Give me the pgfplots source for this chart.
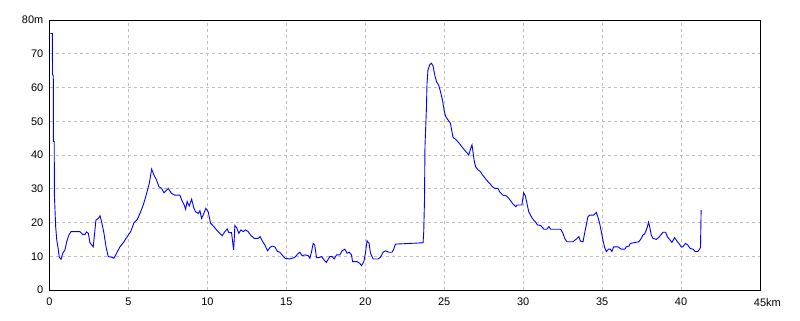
\documentclass[border=0pt]{standalone}
\usepackage{fontspec}
\setmainfont{Liberation Sans}
\usepackage{pgfplots}
\pgfplotsset{compat=1.18}
\definecolor{gridgray}{RGB}{190,190,190}
\begin{document}
\fontsize{11}{13}\selectfont
\begin{tikzpicture}[x=1bp,y=1bp]
\useasboundingbox (0,0) rectangle (800,320);
\begin{axis}[
  at={(49.5bp,30bp)}, anchor=south west,
  scale only axis, width=710.5bp, height=270bp,
  xmin=0, xmax=45, ymin=0, ymax=80,
  xtick={0,5,...,45}, ytick={0,10,...,80},
  xticklabels={0,5,10,15,20,25,30,35,40,45\rlap{km}},
  yticklabels={0,10,20,30,40,50,60,70,80m},
  major tick length=0pt,
  grid=major,
  major grid style={gridgray, line width=0.8bp, dash pattern=on 3bp off 3bp},
  axis line style={black, line width=1bp},
  xticklabel style={anchor=north, inner sep=0pt, yshift=-8bp},
  yticklabel style={anchor=east, inner sep=0pt, xshift=-6bp},
  /pgf/number format/assume math mode=true,
  axis on top=false,
]
\addplot[blue, line width=0.9bp, mark=none] coordinates {
(0.05,76) (0.18,76) (0.19,63.7) (0.24,63.7) (0.25,44) (0.30,44) (0.31,28.1)
(0.39,18.8) (0.46,14.8) (0.56,11.9) (0.62,9.7) (0.73,9.1) (0.84,10.9) (0.98,11.9)
(1.09,14.3) (1.23,16.3) (1.36,17.3) (1.93,17.3) (2.10,16.5) (2.25,16.5) (2.35,17.2)
(2.46,16.8) (2.56,14.0) (2.77,12.8) (2.94,20.7) (3.09,21.2) (3.20,22.0) (3.30,20.2)
(3.45,16.8) (3.58,12.8) (3.72,9.9) (3.94,9.7) (4.08,9.4) (4.25,10.9) (4.46,12.8)
(4.67,14.0) (4.92,15.8) (5.14,17.3) (5.35,19.9) (5.56,20.9) (5.73,22.7) (5.94,25.2)
(6.15,28.6) (6.32,31.6) (6.47,35.8) (6.61,34.1) (6.78,32.6) (6.93,30.6) (7.10,30.1)
(7.25,28.8) (7.42,29.6) (7.52,30.1) (7.73,28.6) (7.94,28.1) (8.26,28.1) (8.37,26.7)
(8.53,25.2) (8.62,23.9) (8.72,26.2) (8.85,24.9) (9.00,26.9) (9.15,24.2) (9.25,23.2)
(9.42,22.7) (9.53,23.5) (9.63,21.2) (9.73,22.2) (9.90,24.2) (10.05,23.2) (10.20,19.8)
(10.37,19.0) (10.58,17.8) (10.79,16.8) (10.94,16.1) (11.11,17.3) (11.25,18.1) (11.36,17.0)
(11.53,17.0) (11.61,13.8) (11.66,11.9) (11.70,15) (11.74,19.1) (11.85,18.5) (11.99,16.8)
(12.12,17.8) (12.27,17.3) (12.42,17.8) (12.58,17.3) (12.73,16.3) (12.96,15.3) (13.22,15.3)
(13.34,15.8) (13.47,14.6) (13.64,13.3) (13.81,11.6) (13.96,12.6) (14.10,13.0) (14.27,12.8)
(14.44,11.4) (14.59,11.2) (14.76,10.2) (14.91,9.4) (15.22,9.2) (15.37,9.4) (15.54,9.7)
(15.71,10.6) (15.85,11.2) (16.00,10.2) (16.17,10.4) (16.38,10.2) (16.49,9.4) (16.60,11.4)
(16.70,13.8) (16.80,13.3) (16.91,9.6) (17.06,9.6) (17.23,9.9) (17.39,8.9) (17.54,8.2)
(17.75,9.9) (17.90,9.9) (18.03,9.2) (18.18,10.4) (18.39,10.4) (18.53,11.6) (18.70,12.1)
(18.85,10.9) (18.98,11.2) (19.13,10.4) (19.19,8.4) (19.48,8.4) (19.65,7.9) (19.76,7.2)
(19.91,8.4) (20.01,10.9) (20.11,14.6) (20.24,13.8) (20.33,10.9) (20.50,9.2) (20.81,9.2)
(20.96,9.7) (21.13,11.2) (21.28,11.6) (21.49,11.2) (21.70,11.2) (21.80,12.1) (21.91,13.6)
(22.82,13.8) (23.66,14.0) (23.70,17.0) (23.75,26.7) (23.78,42.5) (23.87,53.5) (23.91,61.2)
(23.97,65.2) (24.08,66.7) (24.19,67.2) (24.29,66.4) (24.40,63.7) (24.51,61.7) (24.65,60.7)
(24.76,58.8) (24.89,56.3) (24.99,53.3) (25.09,51.4) (25.24,50.4) (25.39,49.4) (25.47,47.4)
(25.56,45.2) (25.73,44.6) (25.87,43.9) (26.03,43.0) (26.19,42.0) (26.34,41.2) (26.47,40.5)
(26.55,40.0) (26.68,42.0) (26.76,43.0) (26.82,41.0) (26.89,38.5) (26.99,36.5) (27.14,35.6)
(27.29,35.1) (27.42,34.1) (27.56,33.3) (27.71,32.4) (27.88,31.6) (28.05,30.6) (28.20,30.1)
(28.41,30.1) (28.51,29.1) (28.72,28.1) (28.94,27.9) (29.08,27.2) (29.21,26.4) (29.35,25.5)
(29.53,24.7) (29.63,25.2) (29.92,25.2) (30.03,28.8) (30.14,27.9) (30.24,25.7) (30.35,23.2)
(30.52,21.7) (30.66,20.7) (30.77,20.2) (30.90,19.3) (31.11,19.1) (31.32,18.0) (31.50,18.0)
(31.63,18.8) (31.74,18.0) (32.37,18.0) (32.52,16.8) (32.63,15.3) (32.77,14.3) (33.15,14.3)
(33.37,15.1) (33.53,15.8) (33.62,14.5) (33.79,14.3) (33.89,16.8) (34.00,19.3) (34.10,21.7)
(34.21,22.2) (34.46,22.2) (34.63,23.0) (34.73,21.7) (34.84,19.8) (34.95,17.3) (35.05,14.8)
(35.16,12.6) (35.27,11.4) (35.41,12.1) (35.52,12.1) (35.62,11.4) (35.73,12.8) (36.00,12.8)
(36.22,12.1) (36.43,12.1) (36.53,12.8) (36.70,13.0) (36.79,13.8) (37.00,14.0) (37.33,14.3)
(37.48,15.3) (37.58,16.3) (37.69,16.6) (37.80,17.8) (37.87,18.8) (37.94,20.1) (38.01,18.8)
(38.11,16.3) (38.22,15.3) (38.43,15.0) (38.59,15.6) (38.75,16.5) (38.85,17.1) (39.02,17.1)
(39.13,15.8) (39.27,15.0) (39.42,14.1) (39.59,15.5) (39.74,14.5) (39.91,13.5) (40.01,12.8)
(40.11,12.8) (40.28,13.8) (40.43,13.3) (40.58,12.3) (40.75,12.1) (40.90,11.4) (41.06,11.4)
(41.17,12.1) (41.23,12.6) (41.27,23.7)
};
\end{axis}
\end{tikzpicture}
\end{document}
